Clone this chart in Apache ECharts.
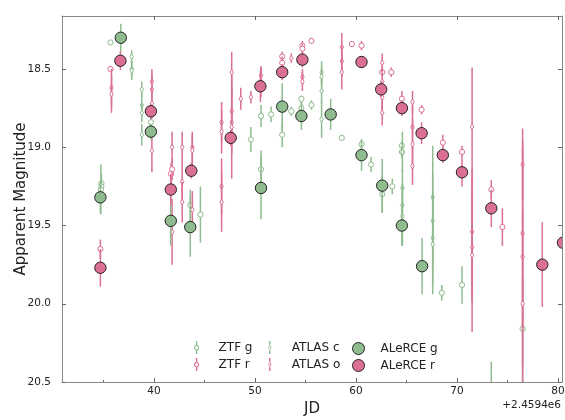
<!DOCTYPE html>
<html>
<head>
<meta charset="utf-8">
<script src="https://cdn.jsdelivr.net/npm/echarts@6/dist/echarts.min.js"></script>
<style>
html, body { margin: 0; padding: 0; background: #fff; }
#chart { width: 565px; height: 420px; }
</style>
</head>
<body>
<div id="chart"></div>
<script>
// points are [JD - 2459400, apparent magnitude, error]
var ztfG = [
    [35.7, 18.33, 0.01], [34.8, 19.23, 0.06], [34.8, 19.25, 0.05], [34.75, 19.27, 0.16],
    [39.7, 18.84, 0.03], [43.6, 19.37, 0.1], [44.6, 19.43, 0.18], [49.6, 18.95, 0.08],
    [50.6, 18.8, 0.07], [50.6, 19.14, 0.12], [51.6, 18.79, 0.05], [52.7, 18.92, 0.08],
    [53.6, 18.77, 0.03], [54.6, 18.69, 0.02], [54.6, 18.75, 0.04], [55.6, 18.73, 0.03],
    [58.6, 18.94, 0.02], [60.55, 18.98, 0.03], [61.5, 19.11, 0.05], [62.6, 19.3, 0.12],
    [63.6, 19.25, 0.05], [64.55, 18.99, 0.03], [64.55, 19.03, 0.04], [68.5, 19.93, 0.05],
    [70.5, 19.88, 0.12], [73.4, 20.6, 0.23], [76.5, 20.16, 0.34]
];
var ztfR = [
    [34.7, 19.65, 0.06], [35.7, 18.5, 0.02], [41.7, 19.17, 0.07], [41.8, 19.14, 0.07],
    [52.7, 18.42, 0.03], [52.7, 18.46, 0.04], [54.7, 18.35, 0.03], [54.7, 18.37, 0.03],
    [55.6, 18.32, 0.02], [59.6, 18.34, 0.02], [60.55, 18.35, 0.03], [62.6, 18.52, 0.03],
    [63.5, 18.52, 0.03], [64.55, 18.69, 0.05], [66.5, 18.76, 0.03], [68.6, 18.97, 0.05],
    [70.5, 19.03, 0.04], [73.4, 19.27, 0.06], [74.5, 19.51, 0.12]
];
var atlasC = [
    [37.8, 18.42, 0.04], [37.8, 18.5, 0.05], [37.8, 18.51, 0.06],
    [38.8, 18.63, 0.05], [38.8, 18.73, 0.06], [38.8, 18.78, 0.06], [38.8, 18.92, 0.07],
    [56.6, 18.52, 0.07], [56.6, 18.55, 0.06], [56.6, 18.64, 0.08], [56.6, 18.82, 0.12],
    [64.6, 19.03, 0.13], [64.6, 19.26, 0.12], [64.6, 19.37, 0.14], [64.6, 19.44, 0.19],
    [67.6, 19.32, 0.33], [67.6, 19.47, 0.3], [67.6, 19.58, 0.3], [67.6, 19.62, 0.32]
];
var atlasO = [
    [35.8, 18.62, 0.12], [35.8, 18.66, 0.12],
    [39.8, 18.58, 0.08], [39.8, 18.63, 0.1], [39.8, 18.72, 0.1], [39.8, 19.02, 0.14],
    [41.8, 19.0, 0.1], [41.8, 19.54, 0.21],
    [42.8, 19.0, 0.1], [42.8, 19.22, 0.12], [42.8, 19.35, 0.13],
    [43.8, 19.0, 0.1], [43.8, 19.02, 0.1], [43.8, 19.4, 0.12],
    [46.7, 18.84, 0.13], [46.7, 18.9, 0.14], [46.7, 19.25, 0.18], [46.7, 19.35, 0.19],
    [47.7, 18.52, 0.13], [47.7, 18.77, 0.16], [47.7, 18.84, 0.2], [47.7, 18.87, 0.33],
    [48.6, 18.69, 0.07], [49.6, 18.68, 0.04], [50.6, 18.54, 0.05], [50.6, 18.58, 0.1],
    [53.6, 18.43, 0.03], [54.7, 18.55, 0.05], [54.7, 18.58, 0.06],
    [58.6, 18.36, 0.09], [58.6, 18.45, 0.1], [58.6, 18.52, 0.11],
    [62.6, 18.46, 0.06], [62.6, 18.58, 0.09], [62.6, 18.68, 0.1], [62.6, 18.78, 0.08],
    [65.6, 18.71, 0.07], [65.6, 18.87, 0.14], [65.6, 18.98, 0.16], [65.6, 19.12, 0.12],
    [71.5, 18.87, 0.38], [71.5, 19.54, 0.4], [71.5, 19.64, 0.35], [71.5, 19.69, 0.49],
    [76.5, 19.11, 0.23], [76.5, 19.55, 0.6], [76.5, 19.7, 0.7], [76.5, 20.0, 0.6]
];
var alerceG = [
    [34.7, 19.32, 0.1], [36.72, 18.3, 0.09], [39.7, 18.9, 0.05], [41.67, 19.47, 0.16],
    [43.6, 19.51, 0.19], [50.6, 19.26, 0.2], [52.7, 18.74, 0.15], [54.6, 18.8, 0.09],
    [57.5, 18.79, 0.1], [60.55, 19.05, 0.1], [62.6, 19.245, 0.17], [64.55, 19.5, 0.13],
    [66.55, 19.76, 0.18]
];
var alerceR = [
    [34.7, 19.77, 0.12], [36.68, 18.447, 0.06], [39.7, 18.77, 0.05], [41.67, 19.27, 0.1],
    [43.7, 19.15, 0.05], [47.6, 18.94, 0.05], [50.54, 18.61, 0.1], [52.7, 18.52, 0.05],
    [54.7, 18.44, 0.05], [60.55, 18.455, 0.03], [62.5, 18.63, 0.05], [64.55, 18.75, 0.05],
    [66.5, 18.91, 0.07], [68.6, 19.05, 0.05], [70.5, 19.16, 0.09], [73.4, 19.39, 0.12],
    [78.45, 19.75, 0.27], [80.5, 19.61, 0.1]
];

var xTicks = [40, 50, 60, 70, 80];
var xMinor = [35, 45, 55, 65, 75];
var yTicks = [18.5, 19.0, 19.5, 20.0, 20.5];

var GREEN = '#8fbc8f';
var PINK = '#db7093';
var FONT = '"DejaVu Sans", sans-serif';

// errorbar + marker, drawn through the axes' own coord()
function errorbar(color, kind) {
    return function (params, api) {
        var x = api.value(0), y = api.value(1), e = api.value(2);
        var p = api.coord([x, y]);
        var a = api.coord([x, y - e]);
        var b = api.coord([x, y + e]);
        var kids = [{
            type: 'line',
            shape: { x1: a[0], y1: a[1], x2: b[0], y2: b[1] },
            style: { stroke: color, lineWidth: 1.5 }
        }];
        if (kind == 'circle') {
            kids.push({ type: 'circle', shape: { cx: p[0], cy: p[1], r: 2.6 },
                style: { fill: '#fff', stroke: color, lineWidth: 1 } });
        } else if (kind == 'diamond') {
            kids.push({ type: 'polygon',
                shape: { points: [[p[0], p[1] - 2.8], [p[0] + 1.8, p[1]], [p[0], p[1] + 2.8], [p[0] - 1.8, p[1]]] },
                style: { fill: '#fff', stroke: color, lineWidth: 1 } });
        } else {
            kids.push({ type: 'circle', shape: { cx: p[0], cy: p[1], r: 5.7 },
                style: { fill: color, stroke: '#222', lineWidth: 1 } });
        }
        return { type: 'group', children: kids };
    };
}

var ringIcon = 'path://M-9,-80 L9,-80 L9,-32 L-9,-32 Z M-9,32 L9,32 L9,80 L-9,80 Z ' +
    'M0,-32 A32,32 0 1 1 0,32 A32,32 0 1 1 0,-32 Z M0,-20 A20,20 0 1 0 0,20 A20,20 0 1 0 0,-20 Z';
var diamIcon = 'path://M-9,-80 L9,-80 L9,-34 L-9,-34 Z M-9,34 L9,34 L9,80 L-9,80 Z ' +
    'M0,-34 L22,0 L0,34 L-22,0 Z M0,-21 L-11,0 L0,21 L11,0 Z';

function legendItem(name, icon, color, left, top, h) {
    return {
        left: left, top: top, padding: 0, itemWidth: 34, itemHeight: h,
        selectedMode: false,
        textStyle: { fontSize: 12, color: '#222', fontFamily: FONT },
        data: [{ name: name, icon: icon,
            itemStyle: icon == 'circle' ? { color: color, borderColor: '#222', borderWidth: 1 } : { color: color, borderWidth: 0 } }]
    };
}

function series(name, data, color, kind) {
    return {
        name: name, type: 'custom', data: data, clip: true,
        itemStyle: { color: color },
        renderItem: errorbar(color, kind)
    };
}

var chart = echarts.init(document.getElementById('chart'));
var option = {
    backgroundColor: '#fff',
    animation: false,
    grid: { left: 62, right: 3, top: 16, bottom: 38, outerBoundsMode: 'none' },
    legend: [
        legendItem('ZTF g', ringIcon, GREEN, 194, 341, 13),
        legendItem('ZTF r', ringIcon, PINK, 194, 358, 13),
        legendItem('ATLAS c', diamIcon, GREEN, 268, 341, 13),
        legendItem('ATLAS o', diamIcon, PINK, 268, 358, 13),
        legendItem('ALeRCE g', 'circle', GREEN, 352, 342, 12),
        legendItem('ALeRCE r', 'circle', PINK, 352, 359, 12)
    ],
    xAxis: [
        {
            type: 'value', min: 30.9, max: 80.4, position: 'bottom',
            name: 'JD', nameLocation: 'middle', nameGap: 20, nameMoveOverlap: false,
            nameTextStyle: { fontSize: 15, color: '#222', fontFamily: FONT },
            axisLine: { lineStyle: { color: '#888' } },
            axisTick: { inside: true, length: 4, customValues: xTicks, lineStyle: { color: '#666' } },
            axisLabel: { customValues: xTicks, fontSize: 10.5, color: '#222', fontFamily: FONT, margin: 4 },
            splitLine: { show: false }
        },
        {
            type: 'value', min: 30.9, max: 80.4, position: 'bottom',
            axisLine: { show: false },
            axisTick: { inside: true, length: 2, customValues: xMinor, lineStyle: { color: '#666' } },
            axisLabel: { show: false },
            splitLine: { show: false }
        },
        {
            type: 'value', min: 30.9, max: 80.4, position: 'top',
            axisLine: { lineStyle: { color: '#888' } },
            axisTick: { inside: true, length: 4, customValues: xTicks, lineStyle: { color: '#666' } },
            axisLabel: { show: false },
            splitLine: { show: false }
        }
    ],
    yAxis: [
        {
            type: 'value', inverse: true, min: 18.161, max: 20.5, position: 'left',
            name: 'Apparent Magnitude', nameLocation: 'middle', nameGap: 33, nameMoveOverlap: false,
            nameTextStyle: { fontSize: 15, color: '#222', fontFamily: FONT },
            axisLine: { show: true, lineStyle: { color: '#888' } },
            axisTick: { show: true, inside: true, length: 4, customValues: yTicks, lineStyle: { color: '#666' } },
            axisLabel: { customValues: yTicks, fontSize: 10.5, color: '#222', fontFamily: FONT, margin: 11,
                formatter: function (v) { return v.toFixed(1); } },
            splitLine: { show: false }
        },
        {
            type: 'value', inverse: true, min: 18.161, max: 20.5, position: 'right',
            axisLine: { show: true, lineStyle: { color: '#888' } },
            axisTick: { show: true, inside: true, length: 4, customValues: yTicks, lineStyle: { color: '#666' } },
            axisLabel: { show: false },
            splitLine: { show: false }
        }
    ],
    graphic: [{
        type: 'text', right: 4, top: 400,
        style: { text: '+2.4594e6', font: '10.5px ' + FONT, fill: '#222' }
    }],
    series: [
        series('ZTF g', ztfG, GREEN, 'circle'),
        series('ZTF r', ztfR, PINK, 'circle'),
        series('ATLAS c', atlasC, GREEN, 'diamond'),
        series('ATLAS o', atlasO, PINK, 'diamond'),
        series('ALeRCE g', alerceG, GREEN, 'big'),
        series('ALeRCE r', alerceR, PINK, 'big')
    ]
};
chart.setOption(option);
</script>
</body>
</html>
